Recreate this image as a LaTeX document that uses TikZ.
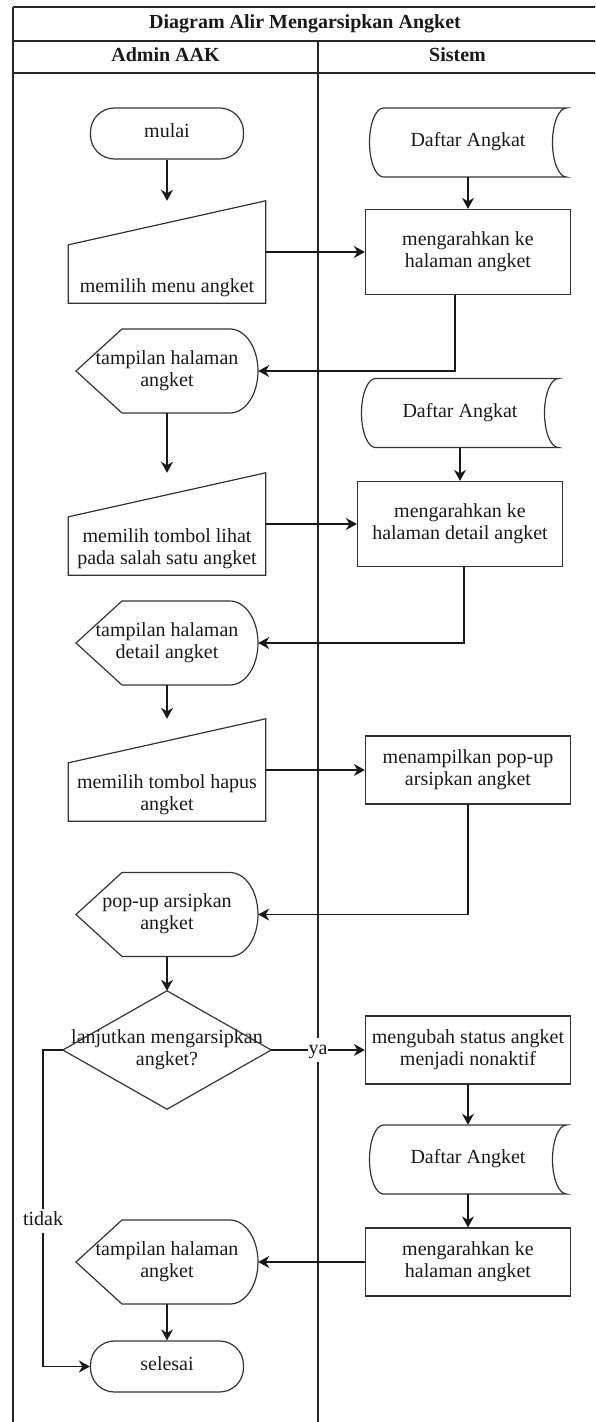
\documentclass[tikz,border=0pt]{standalone}
\usepackage{fontspec}
\setmainfont{Liberation Serif}
\usetikzlibrary{arrows.meta,calc}

\tikzset{
  txt/.style={inner sep=0pt, align=center, text=black!90},
  outline/.style={draw=black!80, line width=1.2pt},
  frame/.style={draw=black!85, line width=1.5pt},
  head/.style={txt, font=\fontsize{20}{22}\selectfont\bfseries},
  term/.style={txt, outline, minimum width=153pt, minimum height=51pt, rounded corners=24pt},
  proc/.style={txt, outline, minimum width=205pt, minimum height=68pt},
  store/.style={txt, minimum width=197pt, minimum height=69pt},
  disp/.style={txt, minimum width=182pt, minimum height=84pt},
  manin/.style={inner sep=0pt, minimum width=197pt, minimum height=102pt},
  decis/.style={txt, minimum width=208pt, minimum height=118pt},
  arr/.style={draw=black!90, line width=1.5pt, -{Stealth[length=11pt,width=12pt,inset=3.5pt]}},
  lbl/.style={txt, fill=white, inner sep=1pt},
}

% outline of a manual-input step (slanted top edge)
\newcommand\manualshape[1]{%
  \draw[outline] ($(#1.north west)+(0,44)$) -- (#1.north east) -- (#1.south east) -- (#1.south west) -- cycle;}
% outline of a stored-data symbol
\newcommand\storeshape[1]{%
  \begin{scope}[shift={(#1.center)}]
    \draw[outline] (-84.5,-34.5) -- (98.5,-34.5)
      .. controls (90.77,-34.5) and (84.5,-19.05) .. (84.5,0)
      .. controls (84.5,19.05) and (90.77,34.5) .. (98.5,34.5)
      -- (-84.5,34.5)
      .. controls (-92.23,34.5) and (-98.5,19.05) .. (-98.5,0)
      .. controls (-98.5,-19.05) and (-92.23,-34.5) .. (-84.5,-34.5) -- cycle;
  \end{scope}}
% outline of a display symbol
\newcommand\dispshape[1]{%
  \begin{scope}[shift={(#1.center)}]
    \draw[outline] (-91,0) -- (-45,-42) -- (63,-42)
      .. controls (78.46,-42) and (91,-23.2) .. (91,0)
      .. controls (91,23.2) and (78.46,42) .. (63,42)
      -- (-45,42) -- cycle;
  \end{scope}}
% outline of a decision diamond
\newcommand\diamondshape[1]{%
  \draw[outline] (#1.north) -- (#1.east) -- (#1.south) -- (#1.west) -- cycle;}

\begin{document}
\begin{tikzpicture}[x=1pt, y=-1pt, font=\fontsize{20}{22}\selectfont]
\useasboundingbox (0,0) rectangle (595,1422);
\clip (0,0) rectangle (595,1422);

% swimlane frame
\draw[frame] (13,7) -- (597,7);
\draw[frame] (13,41) -- (597,41);
\draw[frame] (13,73) -- (597,73);
\draw[frame] (13,7) -- (13,1430);
\draw[frame] (318,41) -- (318,1430);
\node[head] (title) at (305,24) {\strut Diagram Alir Mengarsipkan Angket};
\node[head] (laneA) at (165.5,57) {\strut Admin AAK};
\node[head] (laneB) at (457.5,57) {\strut Sistem};

% steps
\node[term] (mulai) at (167,133.5) {\strut mulai};
\node[manin] (mi1) at (167,252) {};
\node[txt, anchor=south] (mi1t) at ($(mi1.south)+(0,-4)$) {\strut memilih menu angket};
\node[store] (daftar1) at (468,142.5) {\strut Daftar Angkat};
\node[proc, minimum height=85pt] (p1) at (468,252) {\strut mengarahkan ke\\\strut halaman angket};
\node[disp] (d1) at (167,371) {\strut tampilan halaman\\\strut angket};
\node[store] (daftar2) at (460,413) {\strut Daftar Angkat};
\node[manin] (mi2) at (167,524) {};
\node[txt, anchor=south] (mi2t) at ($(mi2.south)+(0,-4)$) {\strut memilih tombol lihat\\\strut pada salah satu angket};
\node[proc, minimum height=85pt] (p2) at (460,524) {\strut mengarahkan ke\\\strut halaman detail angket};
\node[disp] (d2) at (167,643) {\strut tampilan halaman\\\strut detail angket};
\node[manin] (mi3) at (167,770) {};
\node[txt, anchor=south] (mi3t) at ($(mi3.south)+(0,-4)$) {\strut memilih tombol hapus\\\strut angket};
\node[proc] (p3) at (468,770) {\strut menampilkan pop-up\\\strut arsipkan angket};
\node[disp] (d3) at (167,914.5) {\strut pop-up arsipkan\\\strut angket};
\node[decis] (dec) at (167,1050) {\strut lanjutkan mengarsipkan\\\strut angket?};
\node[proc] (p4) at (468,1050) {\strut mengubah status angket\\\strut menjadi nonaktif};
\node[store] (daftar3) at (468,1159.5) {\strut Daftar Angket};
\node[proc] (p5) at (468,1262) {\strut mengarahkan ke\\\strut halaman angket};
\node[disp] (d4) at (167,1262) {\strut tampilan halaman\\\strut angket};
\node[term] (selesai) at (167,1366.5) {\strut selesai};

\manualshape{mi1}
\manualshape{mi2}
\manualshape{mi3}
\storeshape{daftar1}
\storeshape{daftar2}
\storeshape{daftar3}
\dispshape{d1}
\dispshape{d2}
\dispshape{d3}
\dispshape{d4}
\diamondshape{dec}

% flow
\draw[arr] (mulai.south) -- (mi1.north);
\draw[arr] (mi1.east) -- (p1.west);
\draw[arr] (daftar1.south) -- (p1.north);
\draw[arr] ($(p1.south)+(-13,0)$) |- (d1.east);
\draw[arr] (d1.south) -- (mi2.north);
\draw[arr] (mi2.east) -- (p2.west);
\draw[arr] (daftar2.south) -- (p2.north);
\draw[arr] ($(p2.south)+(4,0)$) |- (d2.east);
\draw[arr] (d2.south) -- (mi3.north);
\draw[arr] (mi3.east) -- (p3.west);
\draw[arr] (p3.south) |- (d3.east);
\draw[arr] (d3.south) -- (dec.north);
\draw[arr] (dec.east) -- node[lbl] (ya) {\strut ya} (p4.west);
\draw[arr] (p4.south) -- (daftar3.north);
\draw[arr] (daftar3.south) -- (p5.north);
\draw[arr] (p5.west) -- (d4.east);
\draw[arr] (d4.south) -- (selesai.north);
\coordinate (tidakx) at (43,1200);
\draw[arr] (dec.west) -- (dec.west -| tidakx)
  -- node[lbl, pos=0.54] (tidak) {\strut tidak} (tidakx |- selesai.west)
  -- (selesai.west);
\end{tikzpicture}
\end{document}
